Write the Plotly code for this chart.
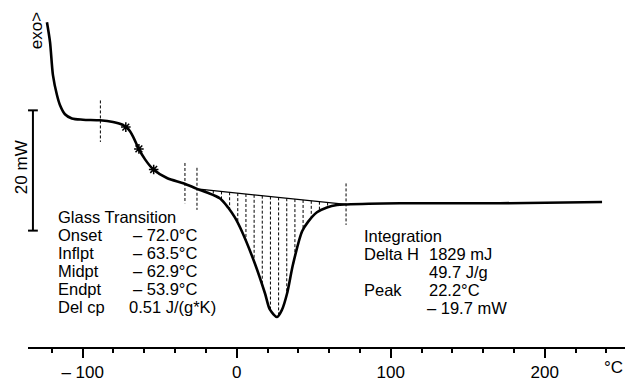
import numpy as np
import plotly.graph_objects as go

# ---- data (temperature in °C, heat flow in mW, exo up) ----
temp = [-123.2, -121.2, -119.3, -116.7, -114.7, -111.5, -107.0, -99.8, -88.8, -80.3,
        -73.8, -70.6, -67.3, -64.1, -59.5, -54.4, -45.3, -34.2, -25.8, -19.3,
        -10.8, -5.6, -1.1, 3.4, 11.9, 18.4, 21.6, 26.2, 29.4, 32.7,
        36.6, 42.4, 46.3, 52.1, 58.6, 65.1, 71.0, 106.0, 171.0, 237.2]
heat = [30.1, 26.8, 21.3, 18.0, 16.3, 14.8, 14.1, 13.9, 13.8, 13.5,
        13.0, 12.4, 11.1, 9.3, 7.3, 5.7, 4.2, 3.3, 2.4, 1.8,
        0.8, -0.7, -2.4, -4.7, -10.1, -15.0, -17.7, -18.9, -17.7, -15.0,
        -10.1, -4.7, -3.1, -1.5, -0.7, -0.3, -0.2, 0.0, 0.0, 0.2]

# glass transition points (Onset, Inflpt, Endpt)
tg_points = [-72.0, -63.5, -53.9]

# evaluation limit markers (dashed verticals): temperature, top, bottom (mW)
vline_temp = [-88.5, -33.6, -25.8, 71.0]
vline_top = [17.1, 6.7, 5.9, 3.3]
vline_bot = [10.2, 0.0, -1.1, -3.6]

# integration baseline
base_temp = [-25.8, 71.0]
base_heat = [2.4, -0.2]

# scale bar
scale_temp = -132.3
scale_heat = [15.45, -4.55]   # 20 mW

tick_vals = [-100, 0, 100, 200]
tick_text = ["\u2013 100", "0", "100", "200"]
minor_vals = [-120, -80, -60, -40, -20, 20, 40, 60, 80, 120, 140, 160, 180, 220, 240]

glass_labels = ["Onset", "Inflpt", "Midpt", "Endpt", "Del cp"]
glass_values = ["\u2013 72.0\u00b0C", "\u2013 63.5\u00b0C", "\u2013 62.9\u00b0C",
                "\u2013 53.9\u00b0C", "0.51 J/(g*K)"]

# ---- layout geometry ----
W, H = 625, 382
ML, MB = 28, 27
X_RANGE = [-135.5, 252.1]
Y_RANGE = [-23.9, 33.8]
FONT = "Liberation Sans, Arial, Helvetica, sans-serif"
FS = 16.5
LS = 18.5


def px(x):
    return (x - ML) / (W - ML)


def py(y):
    return (H - MB - y) / (H - MB)


fig = go.Figure()

# hatching between baseline and curve
hatch_t = np.arange(-20.5, 70, 5.3)
hx, hy = [], []
for t in hatch_t:
    yb = np.interp(t, base_temp, base_heat)
    yc = np.interp(t, temp, heat)
    hx += [t, t, None]
    hy += [yb, yc, None]
fig.add_trace(go.Scatter(x=hx, y=hy, mode="lines",
                         line=dict(color="black", width=1, dash="3px,2px"),
                         hoverinfo="skip"))

# baseline
fig.add_trace(go.Scatter(x=base_temp, y=base_heat, mode="lines",
                         line=dict(color="black", width=1.2), hoverinfo="skip"))

# dashed vertical limit markers
vx, vy = [], []
for t, a, b in zip(vline_temp, vline_top, vline_bot):
    vx += [t, t, None]
    vy += [a, b, None]
fig.add_trace(go.Scatter(x=vx, y=vy, mode="lines",
                         line=dict(color="black", width=1, dash="3px,2px"),
                         hoverinfo="skip"))

# main curve
fig.add_trace(go.Scatter(x=temp, y=heat, mode="lines",
                         line=dict(color="black", width=2.6, shape="spline", smoothing=0.8)))

# Tg markers
fig.add_trace(go.Scatter(x=tg_points, y=list(np.interp(tg_points, temp, heat)),
                         mode="markers",
                         marker=dict(symbol="asterisk-open", size=8, color="black",
                                     line=dict(color="black", width=1.5))))

# scale bar
fig.add_trace(go.Scatter(x=[scale_temp, scale_temp], y=scale_heat, mode="lines+markers",
                         line=dict(color="black", width=2),
                         marker=dict(symbol="line-ew-open", size=7, color="black",
                                     line=dict(color="black", width=2))))

ann = []


def text(x, y, s, anchor="left", angle=0, size=FS):
    ann.append(dict(x=px(x), y=py(y), xref="paper", yref="paper", text=s,
                    showarrow=False, xanchor=anchor, yanchor="middle", borderpad=0,
                    textangle=angle, font=dict(family=FONT, size=size, color="black")))


text(36, 32, "exo>", anchor="center", angle=-90, size=17)
text(21, 171, "20 mW", anchor="center", angle=-90, size=17)
text(613, 376, "\u00b0C", anchor="center", size=17)

g0 = 222
text(57, g0, "Glass Transition")
for i, (lab, val) in enumerate(zip(glass_labels, glass_values)):
    y = g0 + (i + 1) * LS
    text(57, y, lab)
    text(128 if val.startswith("0") else 132, y, val)

i0 = 241
text(363, i0, "Integration")
text(363, i0 + LS, "Delta H")
text(428, i0 + LS, "1829 mJ")
text(428, i0 + 2 * LS, "49.7 J/g")
text(363, i0 + 3 * LS, "Peak")
text(428, i0 + 3 * LS, "22.2\u00b0C")
text(426, i0 + 4 * LS, "\u2013 19.7 mW")

fig.update_layout(
    width=W, height=H,
    margin=dict(l=ML, r=0, t=0, b=MB, pad=0),
    paper_bgcolor="white", plot_bgcolor="white",
    showlegend=False,
    annotations=ann,
    xaxis=dict(range=X_RANGE, showgrid=False, zeroline=False,
               showline=True, linecolor="black", linewidth=1.5,
               ticks="outside", ticklen=9, tickwidth=1.5, tickcolor="black",
               tickvals=tick_vals, ticktext=tick_text,
               tickfont=dict(family=FONT, size=17, color="black"),
               minor=dict(tickvals=minor_vals, ticks="outside", ticklen=4,
                          tickwidth=1.5, tickcolor="black")),
    yaxis=dict(range=Y_RANGE, visible=False),
)

fig.write_html("out.html")
